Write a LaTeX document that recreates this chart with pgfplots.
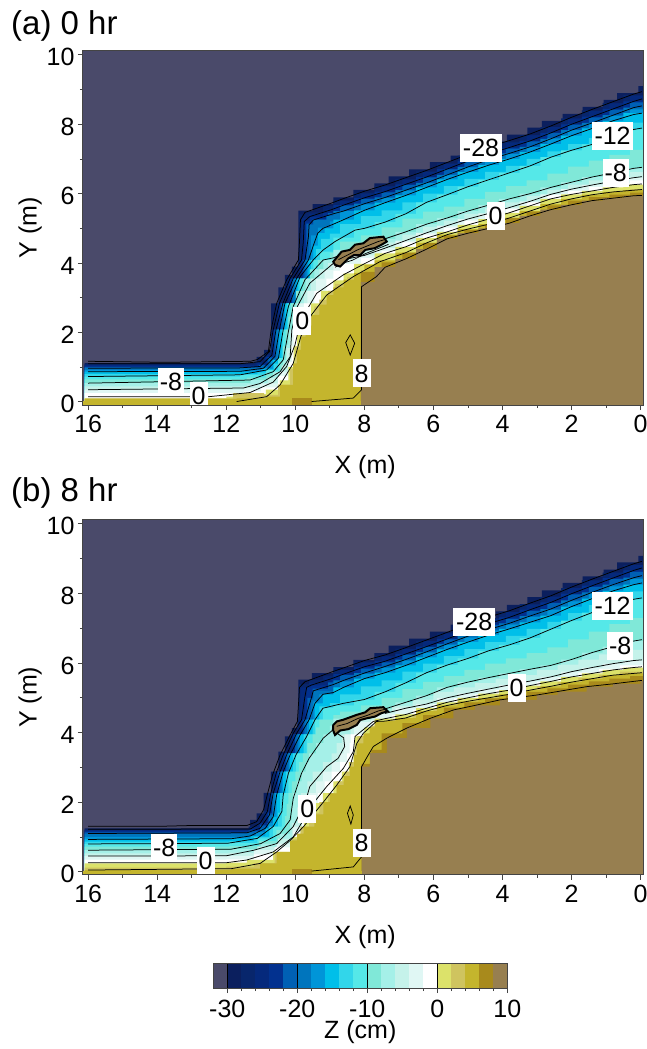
\documentclass[border=0pt]{standalone}
\usepackage{fontspec}
\setmainfont{Liberation Sans}
\usepackage{pgfplots}
\pgfplotsset{compat=1.18}
\newcommand\fs{\fontsize{25}{30}\selectfont}
\definecolor{fr}{HTML}{444444}
\definecolor{bg}{HTML}{4A4A6A}
\definecolor{a1}{HTML}{0B1F5E}
\definecolor{a2}{HTML}{08266C}
\definecolor{a3}{HTML}{05297C}
\definecolor{a4}{HTML}{02318F}
\definecolor{a5}{HTML}{0060B4}
\definecolor{a6}{HTML}{0075BD}
\definecolor{a7}{HTML}{0095D8}
\definecolor{a8}{HTML}{00BFE9}
\definecolor{a9}{HTML}{32D6EA}
\definecolor{a10}{HTML}{55E8E8}
\definecolor{a11}{HTML}{80E8D8}
\definecolor{a12}{HTML}{A5F0E8}
\definecolor{a13}{HTML}{C5F2EA}
\definecolor{a14}{HTML}{E0F7F4}
\definecolor{a15}{HTML}{FFFFFF}
\definecolor{a16}{HTML}{DCE26A}
\definecolor{a17}{HTML}{CFC45F}
\definecolor{a18}{HTML}{C4B52D}
\definecolor{a19}{HTML}{A88A1C}
\definecolor{a20}{HTML}{977F50}
\tikzset{lab/.style={fill=white, inner sep=0pt, minimum height=28pt, font=\fs}}
\pgfplotsset{
  panel/.style={
    scale only axis, width=561pt, x dir=reverse,
    xmin=-0.1, xmax=16.15, ymin=-0.09, ymax=10.12,
    xtick={0,2,...,16}, ytick={0,2,...,10}, minor x tick num=1, minor y tick num=1,
    xtick pos=bottom, ytick pos=left, yticklabel pos=left,
    tick align=outside, major tick length=5pt, minor tick length=3pt,
    axis line style={draw=fr, line width=1pt}, tick style={draw=fr, line width=0.8pt},
    /pgf/number format/assume math mode=true,
    tick label style={font=\fs},
    xticklabel style={yshift=-2pt}, yticklabel style={yshift=-2.5pt},
    label style={font=\fs},
    xlabel={X (m)}, ylabel={Y (m)},
    xlabel style={at={(axis description cs:0.503,-0.175)}, anchor=center},
    ylabel style={at={(axis description cs:-0.094,0.5)}, anchor=center},
    axis background/.style={fill=bg}, axis on top, clip=true,
  },
  band/.style={const plot, draw=none, fill=#1, mark=none},
  cl/.style={black, line width=0.75pt, mark=none},
}
\begin{document}
\begin{tikzpicture}
\path[use as bounding box] (0pt,0pt) rectangle (647pt,-1049pt);
\node[anchor=west, font=\fontsize{33}{38}\selectfont, inner sep=0pt] at (11pt,-26pt) {(a) 0 hr};
\node[anchor=west, font=\fontsize{33}{38}\selectfont, inner sep=0pt] at (11pt,-493pt) {(b) 8 hr};
% ---------------- panel a
\begin{axis}[panel, height=354.3pt, at={(83pt,-50.7pt)}, anchor=north west]
\addplot[band=a1] coordinates {(16.1,1.12)(11.12,1.3)(10.9,1.5)(10.7,2.84)(10.49,3.3)(10.3,3.66)(10.1,3.9)(9.91,5.51)(9.5,5.7)(8.9,5.89)(8.32,6.11)(7.71,6.3)(7.3,6.5)(6.7,6.7)(6.1,6.91)(5.5,7.1)(4.9,7.3)(4.3,7.5)(3.87,7.7)(3.28,7.9)(2.86,8.1)(2.26,8.3)(1.68,8.5)(1.07,8.7)(0.68,8.9)(0.06,9.1)(-0.1,9.1)} \closedcycle;
\addplot[band=a2] coordinates {(16.1,1.09)(11.2,1.16)(10.9,1.42)(10.7,2.08)(10.54,2.84)(10.22,3.55)(9.91,4.09)(9.88,5.4)(9.7,5.46)(9.2,5.65)(8.9,5.8)(8.3,6.03)(7.7,6.22)(7.1,6.43)(6.5,6.64)(5.9,6.87)(5.3,7.1)(4.7,7.32)(4.1,7.5)(3.5,7.69)(2.9,7.92)(2.3,8.17)(1.7,8.4)(1.1,8.62)(0.5,8.84)(-0.1,8.84)} \closedcycle;
\addplot[band=a3] coordinates {(16.1,1.07)(11.15,1.13)(10.88,1.35)(10.67,2.08)(10.5,2.84)(10.18,3.55)(9.86,4.09)(9.8,5.3)(9.6,5.42)(9.1,5.56)(8.7,5.8)(8.1,6)(7.5,6.2)(6.9,6.4)(6.3,6.62)(5.7,6.85)(5.1,7.08)(4.5,7.29)(3.9,7.47)(3.3,7.68)(2.7,7.92)(2.1,8.16)(1.5,8.38)(0.9,8.6)(0.3,8.82)(-0.1,8.82)} \closedcycle;
\addplot[band=a4] coordinates {(16.1,1.04)(11.1,1.1)(10.85,1.3)(10.64,2.08)(10.46,2.84)(10.15,3.55)(9.82,4.09)(9.74,5.2)(9.58,5.34)(9.2,5.45)(8.9,5.67)(8.3,5.88)(7.7,6.06)(7.1,6.27)(6.5,6.48)(5.9,6.71)(5.3,6.94)(4.7,7.15)(4.1,7.33)(3.5,7.52)(2.9,7.75)(2.3,8)(1.7,8.22)(1.1,8.44)(0.5,8.66)(-0.1,8.66)} \closedcycle;
\addplot[band=a5] coordinates {(16.1,1)(11.05,1.06)(10.8,1.28)(10.6,2.08)(10.41,2.84)(10.1,3.55)(9.77,4.09)(9.68,5.14)(9.5,5.26)(9.05,5.44)(8.7,5.66)(8.1,5.85)(7.5,6.04)(6.9,6.25)(6.3,6.47)(5.7,6.7)(5.1,6.92)(4.5,7.12)(3.9,7.3)(3.3,7.51)(2.7,7.75)(2.1,7.99)(1.5,8.2)(0.9,8.42)(0.3,8.63)(-0.1,8.63)} \closedcycle;
\addplot[band=a6] coordinates {(16.1,0.97)(11,1.02)(10.75,1.25)(10.56,2.08)(10.36,2.84)(10.06,3.55)(9.72,4.09)(9.6,5.1)(9.48,5.24)(9.1,5.36)(8.9,5.5)(8.3,5.71)(7.7,5.89)(7.1,6.1)(6.5,6.31)(5.9,6.54)(5.3,6.77)(4.7,6.98)(4.1,7.16)(3.5,7.35)(2.9,7.58)(2.3,7.83)(1.7,8.04)(1.1,8.26)(0.5,8.48)(-0.1,8.48)} \closedcycle;
\addplot[band=a7] coordinates {(16.1,0.92)(11,0.97)(10.7,1.2)(10.51,2.08)(10.33,2.84)(10.01,3.55)(9.67,4.09)(9.54,4.8)(9.35,5.02)(9,5.2)(8.7,5.5)(8.1,5.69)(7.5,5.88)(6.9,6.09)(6.3,6.31)(5.7,6.54)(5.1,6.76)(4.5,6.96)(3.9,7.14)(3.3,7.35)(2.7,7.59)(2.1,7.83)(1.5,8.03)(0.9,8.24)(0.3,8.43)(-0.1,8.43)} \closedcycle;
\addplot[band=a8] coordinates {(16.1,0.87)(10.95,0.95)(10.65,1.2)(10.46,2.08)(10.3,2.84)(9.96,3.55)(9.62,4.09)(9.48,4.5)(9.35,4.86)(9.15,5)(8.9,5.25)(8.3,5.52)(7.7,5.74)(7.1,5.95)(6.5,6.18)(5.9,6.41)(5.3,6.62)(4.7,6.82)(4.1,7)(3.5,7.2)(2.9,7.43)(2.3,7.67)(1.7,7.88)(1.1,8.1)(0.5,8.32)(-0.1,8.32)} \closedcycle;
\addplot[band=a9] coordinates {(16.1,0.8)(11.1,0.85)(10.62,1.1)(10.4,2.08)(10.25,2.84)(9.91,3.55)(9.55,4.09)(9.4,4.4)(9.25,4.7)(9,4.85)(8.7,5.12)(8.1,5.35)(7.5,5.52)(6.9,5.75)(6.3,6)(5.7,6.22)(5.1,6.43)(4.5,6.63)(3.9,6.8)(3.3,7)(2.7,7.22)(2.1,7.43)(1.5,7.6)(0.9,7.82)(0.3,8.05)(-0.1,8.05)} \closedcycle;
\addplot[band=a10] coordinates {(16.1,0.73)(11.6,0.78)(10.85,0.92)(10.5,1.26)(10.35,2.08)(10.2,2.84)(9.86,3.55)(9.48,4.09)(9.28,4.33)(8.9,4.73)(8.3,5)(7.7,5.18)(7.1,5.42)(6.5,5.75)(5.9,5.97)(5.3,6.2)(4.7,6.4)(4.1,6.6)(3.5,6.8)(2.9,7.05)(2.3,7.25)(1.7,7.42)(1.1,7.62)(0.5,7.85)(-0.1,7.85)} \closedcycle;
\addplot[band=a11] coordinates {(16.1,0.65)(11.4,0.7)(10.85,0.82)(10.45,1.15)(10.35,1.6)(10.28,2.08)(10.2,2.46)(10.13,2.84)(9.98,3.2)(9.79,3.55)(9.58,3.82)(9.35,4.09)(9,4.3)(8.7,4.62)(8.1,4.8)(7.5,5.03)(6.9,5.28)(6.3,5.48)(5.7,5.63)(5.1,5.85)(4.5,6.05)(3.9,6.22)(3.3,6.38)(2.7,6.58)(2.1,6.78)(1.5,6.95)(0.9,7.12)(0.3,7.26)(-0.1,7.26)} \closedcycle;
\addplot[band=a12] coordinates {(16.1,0.54)(11.3,0.63)(10.64,0.87)(10.35,1.21)(10.27,1.65)(10.2,2.08)(10.1,2.46)(10,2.84)(9.85,3.2)(9.7,3.55)(9.45,3.82)(9.19,4.09)(8.9,4.38)(8.3,4.5)(7.7,4.7)(7.1,4.9)(6.5,5.12)(5.9,5.3)(5.3,5.5)(4.7,5.67)(4.1,5.85)(3.5,6)(2.9,6.18)(2.3,6.33)(1.7,6.48)(1.1,6.6)(0.5,6.73)(-0.1,6.73)} \closedcycle;
\addplot[band=a13] coordinates {(16.1,0.45)(11.4,0.5)(10.8,0.7)(10.4,1.05)(10.25,1.55)(10.15,2.08)(10.05,2.46)(9.95,2.84)(9.75,3.2)(9.55,3.55)(9.3,3.82)(9.05,4)(8.7,4.28)(8.1,4.42)(7.5,4.6)(6.9,4.82)(6.3,5.04)(5.7,5.22)(5.1,5.42)(4.5,5.58)(3.9,5.75)(3.3,5.93)(2.7,6.1)(2.1,6.26)(1.5,6.38)(0.9,6.5)(0.3,6.62)(-0.1,6.62)} \closedcycle;
\addplot[band=a14] coordinates {(16.1,0.35)(11.5,0.4)(11.02,0.53)(10.44,0.87)(10.15,1.3)(10.12,1.7)(10.1,2.08)(10,2.46)(9.9,2.84)(9.65,3.2)(9.4,3.55)(9.15,3.8)(8.9,4.1)(8.3,4.22)(7.7,4.43)(7.1,4.65)(6.5,4.87)(5.9,5.08)(5.3,5.27)(4.7,5.43)(4.1,5.6)(3.5,5.78)(2.9,5.98)(2.3,6.13)(1.7,6.25)(1.1,6.36)(0.5,6.46)(-0.1,6.46)} \closedcycle;
\addplot[band=a15] coordinates {(16.1,0.25)(11.5,0.3)(11,0.42)(10.5,0.75)(10.2,1.15)(10.1,1.6)(10.05,2.08)(9.9,2.46)(9.75,2.84)(9.45,3.2)(9.1,3.55)(8.9,3.78)(8.7,3.98)(8.1,4.15)(7.5,4.35)(6.9,4.6)(6.3,4.82)(5.7,5.02)(5.1,5.22)(4.5,5.38)(3.9,5.56)(3.3,5.75)(2.7,5.97)(2.1,6.08)(1.5,6.19)(0.9,6.3)(0.3,6.38)(-0.1,6.38)} \closedcycle;
\addplot[band=a16] coordinates {(16.1,0.1)(12,0.15)(11.3,0.22)(10.85,0.35)(10.45,0.62)(10.2,1)(10.05,1.6)(9.95,2)(9.8,2.4)(9.55,2.84)(9.25,3.2)(8.9,3.5)(8.6,3.7)(8.3,3.98)(7.7,4.28)(7.1,4.47)(6.5,4.72)(5.9,4.9)(5.3,5.1)(4.7,5.27)(4.1,5.45)(3.5,5.65)(2.9,5.85)(2.3,5.98)(1.7,6.08)(1.1,6.18)(0.5,6.26)(-0.1,6.26)} \closedcycle;
\addplot[band=a17] coordinates {(16.1,0.1)(11.8,0.25)(10.9,0.2)(10.5,0.5)(10.15,0.95)(10,1.6)(9.85,2.1)(9.65,2.5)(9.45,2.75)(9.3,2.95)(9.05,3.2)(8.85,3.4)(8.5,3.6)(8.1,3.8)(7.5,4)(6.9,4.22)(6.3,4.45)(5.7,4.68)(5.1,4.88)(4.5,5.04)(3.9,5.22)(3.3,5.42)(2.7,5.62)(2.1,5.82)(1.5,5.95)(0.9,6.05)(0.3,6.13)(-0.1,6.2)} \closedcycle;
\addplot[band=a18] coordinates {(16.1,0.09)(11.7,0.1)(10.83,0.15)(10.44,0.49)(10.06,1.11)(9.95,1.5)(9.84,1.88)(9.7,2.2)(9.53,2.51)(9.3,2.8)(9.09,3.08)(8.9,3.3)(8.6,3.52)(8.3,3.72)(8,3.95)(7.7,4.08)(7.1,4.3)(6.5,4.58)(5.9,4.82)(5.3,4.98)(4.7,5.12)(4.1,5.3)(3.5,5.5)(2.9,5.7)(2.3,5.85)(1.7,5.97)(1.1,6.05)(0.5,6.1)(-0.1,6.1)} \closedcycle;
\addplot[band=a19] coordinates {(16.1,0)(8.1,3.75)(7.5,4.02)(6.9,4.3)(6.3,4.58)(5.7,4.8)(5.1,4.95)(4.5,5.1)(3.9,5.3)(3.3,5.48)(2.7,5.66)(2.1,5.8)(1.5,5.9)(0.9,5.97)(0.3,6.03)(-0.1,6.03)} \closedcycle;
\addplot[band=a20] coordinates {(16.1,0)(8.1,3.45)(7.7,3.88)(7.1,4.12)(6.5,4.4)(5.9,4.7)(5.3,4.86)(4.7,5)(4.1,5.15)(3.5,5.36)(2.9,5.54)(2.3,5.68)(1.7,5.8)(1.1,5.87)(0.5,5.94)(-0.1,5.94)} \closedcycle;
\addplot[fill=a18, draw=none] coordinates {(16.15,-0.2)(8.1,-0.2)(8.1,0.02)(16.15,0.02)} --cycle;
\addplot[fill=a20, draw=none] coordinates {(8.1,-0.2)(-0.1,-0.2)(-0.1,0.02)(8.1,0.02)} --cycle;
\addplot[fill=a19, draw=none] coordinates {(10.1,-0.2)(10.1,0.1)(9.53,0.1)(9.53,-0.2)} --cycle;
% contours a
\addplot[cl] coordinates {(16,1.17)(13.8,1.14)(11.3,1.17)(11.1,1.22)(10.78,1.45)(10.7,2.08)(10.54,2.84)(10.25,3.52)(9.91,4.09)(9.88,4.6)(9.85,5.25)(9.72,5.46)(8.95,5.73)(8.6,5.86)(8,6.07)(7.4,6.25)(6.8,6.46)(6.2,6.67)(5.6,6.9)(5,7.13)(4.4,7.35)(3.8,7.53)(3.2,7.72)(2.6,7.95)(2,8.2)(1.4,8.43)(0.8,8.65)(0.2,8.87)(-0.04,8.94)};
\addplot[cl] coordinates {(16,1.1)(11.6,1.1)(11.02,1.16)(10.75,1.45)(10.64,2.08)(10.46,2.84)(10.15,3.56)(9.82,4.09)(9.77,4.6)(9.74,5.2)(9.58,5.34)(8.95,5.54)(8.6,5.67)(8,5.88)(7.4,6.06)(6.8,6.27)(6.2,6.48)(5.6,6.71)(5,6.94)(4.4,7.15)(3.8,7.33)(3.2,7.52)(2.6,7.75)(2,8)(1.4,8.22)(0.8,8.44)(0.2,8.66)(-0.04,8.73)};
\addplot[cl] coordinates {(16,0.97)(11.6,0.98)(11.02,1.02)(10.68,1.35)(10.56,2.08)(10.36,2.84)(10.06,3.56)(9.72,4.09)(9.62,4.76)(9.6,5.1)(9.48,5.24)(8.9,5.42)(8.6,5.5)(8,5.71)(7.4,5.89)(6.8,6.1)(6.2,6.31)(5.6,6.54)(5,6.77)(4.4,6.98)(3.8,7.16)(3.2,7.35)(2.6,7.58)(2,7.83)(1.4,8.04)(0.8,8.26)(0.2,8.48)(-0.04,8.53)};
\addplot[cl] coordinates {(16,0.87)(11.6,0.88)(10.92,0.97)(10.59,1.31)(10.46,2.08)(10.3,2.84)(9.96,3.56)(9.62,4.09)(9.48,4.5)(9.35,4.86)(9.2,5)(8.9,5.12)(8.6,5.25)(8,5.52)(7.4,5.74)(6.8,5.95)(6.2,6.18)(5.6,6.41)(5,6.62)(4.4,6.82)(3.8,7)(3.2,7.2)(2.6,7.43)(2,7.67)(1.4,7.88)(0.8,8.1)(0.2,8.28)(-0.04,8.32)};
\addplot[cl] coordinates {(16,0.73)(11.6,0.78)(10.83,0.92)(10.49,1.26)(10.35,2.08)(10.2,2.75)(9.86,3.61)(9.48,4.09)(9.19,4.38)(8.85,4.62)(8.27,4.95)(8,5)(7.4,5.18)(6.8,5.42)(6.2,5.75)(5.6,5.97)(5,6.2)(4.4,6.4)(3.8,6.6)(3.2,6.8)(2.6,7.05)(2,7.25)(1.4,7.42)(0.8,7.62)(0.2,7.85)(-0.04,7.89)};
\addplot[cl] coordinates {(16,0.54)(11.31,0.63)(10.64,0.87)(10.35,1.21)(10.2,2.03)(10.06,2.75)(9.72,3.52)(9.19,4.09)(8.9,4.15)(8.4,4.35)(8,4.5)(7.4,4.7)(6.8,4.9)(6.2,5.12)(5.6,5.3)(5,5.5)(4.4,5.67)(3.8,5.85)(3.2,6)(2.6,6.18)(2,6.33)(1.4,6.48)(0.8,6.6)(0.2,6.73)(-0.04,6.76)};
\addplot[cl] coordinates {(16,0.35)(11.5,0.4)(11.02,0.53)(10.44,0.87)(10.15,1.3)(10.1,2.08)(9.94,2.75)(9.58,3.42)(8.9,3.99)(8.6,4.1)(8,4.22)(7.4,4.43)(6.8,4.65)(6.2,4.87)(5.6,5.08)(5,5.27)(4.4,5.43)(3.8,5.6)(3.2,5.78)(2.6,5.98)(2,6.13)(1.4,6.25)(0.8,6.36)(0.2,6.46)(-0.04,6.49)};
\addplot[cl] coordinates {(16,0.15)(12.5,0.15)(11.31,0.27)(10.64,0.57)(10.25,1.02)(10.01,1.64)(9.84,2.36)(9.38,3.13)(8.61,3.66)(8,3.98)(7.4,4.28)(6.8,4.47)(6.2,4.72)(5.6,4.9)(5,5.1)(4.4,5.27)(3.8,5.45)(3.2,5.65)(2.6,5.85)(2,5.98)(1.4,6.08)(0.8,6.18)(0.2,6.26)(-0.04,6.28)};
\addplot[cl] coordinates {(11.7,0.01)(10.83,0.15)(10.44,0.49)(10.06,1.11)(9.84,1.88)(9.53,2.51)(9.09,3.08)(8.32,3.61)(7.55,4.04)(6.8,4.3)(6.2,4.58)(5.6,4.82)(5,4.98)(4.4,5.12)(3.8,5.3)(3.2,5.5)(2.6,5.7)(2,5.85)(1.4,5.97)(0.8,6.05)(0.2,6.1)(-0.04,6.12)};
\addplot[cl] coordinates {(9.53,0.01)(8.32,0.11)(8.08,0.35)(8.08,3.32)(7.65,3.61)(7.4,3.88)(6.8,4.12)(6.2,4.4)(5.6,4.7)(5,4.86)(4.4,5)(3.8,5.15)(3.2,5.36)(2.6,5.54)(2,5.68)(1.4,5.8)(0.8,5.87)(0.2,5.94)(-0.04,5.95)};
\addplot[cl] coordinates {(8.41,1.93)(8.54,1.71)(8.41,1.35)(8.28,1.69)} --cycle;
\addplot[cl] coordinates {(8.85,3.88)(8.55,4.02)(8.35,4.08)(8.15,4.18)(7.95,4.28)(7.55,4.44)(7.3,4.54)};
\addplot[fill=a20, draw=black, line width=2pt] coordinates {(8.9,4.04)(8.66,4.33)(8.42,4.38)(8.27,4.53)(8.03,4.57)(7.84,4.72)(7.45,4.76)(7.35,4.62)(7.5,4.53)(7.7,4.43)(7.97,4.38)(8.12,4.23)(8.3,4.23)(8.47,4.13)(8.7,3.9)(8.85,3.95)} --cycle;
\addplot[cl] coordinates {(8.75,4.1)(8.45,4.25)(8.2,4.38)(7.9,4.5)(7.6,4.62)(7.4,4.68)};
\node[lab, minimum width=42pt] at (axis cs:4.62,7.31) {-28};
\node[lab, minimum width=41pt] at (axis cs:0.81,7.66) {-12};
\node[lab, minimum width=26pt] at (axis cs:0.72,6.6) {-8};
\node[lab, minimum width=18pt] at (axis cs:4.2,5.36) {0};
\node[lab, minimum width=26pt] at (axis cs:13.6,0.58) {-8};
\node[lab, minimum width=18pt] at (axis cs:12.8,0.17) {0};
\node[lab, minimum width=18pt] at (axis cs:9.8,2.33) {0};
\node[lab, minimum width=18pt] at (axis cs:8.08,0.82) {8};
\end{axis}
% ---------------- panel b
\begin{axis}[panel, height=355.3pt, at={(83pt,-519.6pt)}, anchor=north west]
\addplot[band=a1] coordinates {(16.1,1.25)(11.31,1.49)(11.12,1.68)(10.92,2.27)(10.71,2.88)(10.49,3.45)(10.3,3.89)(10.1,4.13)(9.91,5.52)(9.52,5.71)(8.9,5.88)(8.32,6.09)(7.71,6.28)(7.3,6.5)(6.7,6.7)(6.1,6.9)(5.5,7.1)(4.9,7.29)(4.19,7.48)(3.87,7.67)(3.28,7.89)(2.86,8.09)(2.26,8.3)(1.68,8.49)(1.07,8.68)(0.68,8.89)(0.06,9.08)(-0.1,9.08)} \closedcycle;
\addplot[band=a2] coordinates {(16.1,1.22)(11.35,1.3)(11.12,1.42)(10.92,1.75)(10.8,2.26)(10.64,2.88)(10.44,3.4)(10.15,3.95)(9.94,4.37)(9.9,5.4)(9.6,5.52)(9.2,5.64)(8.9,5.8)(8.3,6.03)(7.7,6.2)(7.1,6.41)(6.5,6.63)(5.9,6.85)(5.3,7.08)(4.7,7.29)(4.1,7.47)(3.5,7.69)(2.9,7.9)(2.3,8.15)(1.7,8.38)(1.1,8.6)(0.5,8.82)(-0.1,8.82)} \closedcycle;
\addplot[band=a3] coordinates {(16.1,1.2)(11.3,1.28)(11.07,1.4)(10.87,1.72)(10.76,2.26)(10.59,2.88)(10.38,3.4)(10.1,3.95)(9.88,4.37)(9.85,5.3)(9.6,5.42)(9.15,5.58)(8.7,5.8)(8.1,6)(7.5,6.18)(6.9,6.4)(6.3,6.63)(5.7,6.85)(5.1,7.08)(4.5,7.27)(3.9,7.46)(3.3,7.68)(2.7,7.91)(2.1,8.15)(1.5,8.37)(0.9,8.6)(0.3,8.81)(-0.1,8.81)} \closedcycle;
\addplot[band=a4] coordinates {(16.1,1.17)(11.3,1.23)(11.02,1.4)(10.81,1.73)(10.71,2.26)(10.54,2.88)(10.33,3.4)(10.06,3.95)(9.82,4.37)(9.72,5.04)(9.67,5.3)(9.55,5.36)(8.95,5.55)(8.9,5.68)(8.3,5.89)(7.7,6.05)(7.1,6.26)(6.5,6.47)(5.9,6.69)(5.3,6.92)(4.7,7.13)(4.1,7.31)(3.5,7.53)(2.9,7.74)(2.3,7.99)(1.7,8.22)(1.1,8.44)(0.5,8.66)(-0.1,8.66)} \closedcycle;
\addplot[band=a5] coordinates {(16.1,1.13)(11.35,1.18)(11.02,1.33)(10.78,1.68)(10.68,2.26)(10.49,2.88)(10.28,3.4)(10.01,3.95)(9.77,4.37)(9.65,5)(9.5,5.26)(9.05,5.44)(8.7,5.65)(8.1,5.84)(7.5,6.02)(6.9,6.24)(6.3,6.46)(5.7,6.68)(5.1,6.9)(4.5,7.09)(3.9,7.27)(3.3,7.5)(2.7,7.72)(2.1,7.97)(1.5,8.19)(0.9,8.41)(0.3,8.62)(-0.1,8.62)} \closedcycle;
\addplot[band=a6] coordinates {(16.1,1.08)(11.4,1.12)(11.02,1.25)(10.75,1.63)(10.64,2.26)(10.44,2.88)(10.23,3.4)(9.96,3.95)(9.72,4.37)(9.55,4.94)(9.48,5.2)(8.9,5.5)(8.3,5.71)(7.7,5.9)(7.1,6.1)(6.5,6.32)(5.9,6.55)(5.3,6.77)(4.7,6.96)(4.1,7.14)(3.5,7.35)(2.9,7.55)(2.3,7.8)(1.7,8.03)(1.1,8.25)(0.5,8.45)(-0.1,8.45)} \closedcycle;
\addplot[band=a7] coordinates {(16.1,1)(11.5,1.03)(11.15,1.15)(10.8,1.4)(10.66,1.65)(10.59,2.26)(10.4,2.88)(10.19,3.4)(9.91,3.95)(9.66,4.37)(9.48,4.9)(9.3,5.1)(8.7,5.47)(8.1,5.68)(7.5,5.87)(6.9,6.07)(6.3,6.3)(5.7,6.52)(5.1,6.73)(4.5,6.92)(3.9,7.1)(3.3,7.32)(2.7,7.52)(2.1,7.77)(1.5,8)(0.9,8.2)(0.3,8.41)(-0.1,8.41)} \closedcycle;
\addplot[band=a8] coordinates {(16.1,0.93)(11.85,0.95)(11.3,1.03)(10.87,1.25)(10.64,1.58)(10.54,2.26)(10.35,2.88)(10.15,3.4)(9.86,3.95)(9.6,4.37)(9.43,4.84)(9.2,5.1)(8.9,5.3)(8.3,5.55)(7.7,5.72)(7.1,5.93)(6.5,6.16)(5.9,6.39)(5.3,6.6)(4.7,6.8)(4.1,6.98)(3.5,7.17)(2.9,7.36)(2.3,7.62)(1.7,7.85)(1.1,8.07)(0.5,8.25)(-0.1,8.25)} \closedcycle;
\addplot[band=a9] coordinates {(16.1,0.87)(11.9,0.88)(11.2,1)(10.75,1.3)(10.5,1.7)(10.44,2.26)(10.27,2.88)(10.07,3.4)(9.76,3.95)(9.5,4.37)(9.3,4.75)(9,4.85)(8.7,5.1)(8.1,5.33)(7.5,5.5)(6.9,5.75)(6.3,5.98)(5.7,6.2)(5.1,6.4)(4.5,6.6)(3.9,6.78)(3.3,6.98)(2.7,7.18)(2.1,7.43)(1.5,7.66)(0.9,7.88)(0.3,8.06)(-0.1,8.06)} \closedcycle;
\addplot[band=a10] coordinates {(16.1,0.8)(11.95,0.82)(11.1,0.96)(10.64,1.3)(10.39,1.73)(10.35,2.26)(10.2,2.88)(9.98,3.4)(9.67,3.95)(9.43,4.37)(9.2,4.7)(8.9,4.78)(8.3,4.95)(7.7,5.17)(7.1,5.43)(6.5,5.72)(5.9,5.94)(5.3,6.13)(4.7,6.35)(4.1,6.52)(3.5,6.72)(2.9,6.97)(2.3,7.22)(1.7,7.45)(1.1,7.65)(0.5,7.83)(-0.1,7.83)} \closedcycle;
\addplot[band=a11] coordinates {(16.1,0.72)(11.9,0.74)(11.05,0.88)(10.55,1.2)(10.3,1.6)(10.25,1.95)(10.2,2.26)(10.1,2.6)(10,2.88)(9.9,3.15)(9.78,3.4)(9.65,3.7)(9.5,3.95)(9.4,4.15)(9.3,4.37)(8.9,4.5)(8.7,4.6)(8.1,4.78)(7.5,5)(6.9,5.25)(6.3,5.46)(5.7,5.62)(5.1,5.8)(4.5,5.98)(3.9,6.13)(3.3,6.28)(2.7,6.45)(2.1,6.68)(1.5,6.9)(0.9,7.12)(0.3,7.29)(-0.1,7.29)} \closedcycle;
\addplot[band=a12] coordinates {(16.1,0.62)(11.85,0.65)(11,0.81)(10.44,1.1)(10.15,1.49)(10.1,1.9)(10.06,2.26)(9.95,2.6)(9.82,2.88)(9.7,3.15)(9.6,3.4)(9.4,3.7)(9.19,3.95)(9,4.2)(8.9,4.4)(8.3,4.48)(7.7,4.68)(7.1,4.87)(6.5,5.06)(5.9,5.3)(5.3,5.45)(4.7,5.58)(4.1,5.7)(3.5,5.82)(2.9,5.93)(2.3,6.1)(1.7,6.3)(1.1,6.47)(0.5,6.63)(-0.1,6.63)} \closedcycle;
\addplot[band=a13] coordinates {(16.1,0.53)(11.9,0.55)(11.1,0.72)(10.5,0.95)(10.1,1.4)(9.95,1.85)(9.83,2.26)(9.65,2.6)(9.5,2.88)(9.2,3.15)(8.95,3.4)(8.8,3.7)(8.65,3.95)(8.4,4.38)(7.8,4.58)(7.2,4.77)(6.6,4.95)(6,5.17)(5.4,5.3)(4.8,5.42)(4.2,5.54)(3.6,5.65)(3,5.8)(2.4,5.95)(1.8,6.1)(1.2,6.25)(0.6,6.38)(-0.1,6.38)} \closedcycle;
\addplot[band=a14] coordinates {(16.1,0.45)(12,0.46)(11.2,0.62)(10.54,0.81)(10.06,1.3)(9.72,1.97)(9.6,2.26)(9.4,2.6)(9.2,2.88)(8.95,3.15)(8.72,3.4)(8.6,3.7)(8.57,3.95)(8.3,4.3)(7.7,4.55)(7.1,4.7)(6.5,4.82)(5.9,5)(5.3,5.13)(4.7,5.25)(4.1,5.37)(3.5,5.48)(2.9,5.6)(2.3,5.75)(1.7,5.87)(1.1,5.98)(0.5,6.07)(-0.1,6.07)} \closedcycle;
\addplot[band=a15] coordinates {(16.1,0.35)(12,0.36)(11.2,0.5)(10.6,0.7)(10.05,1.15)(9.8,1.5)(9.6,1.9)(9.35,2.26)(9.15,2.6)(8.95,2.88)(8.7,3.15)(8.5,3.4)(8.43,3.7)(8.4,3.95)(7.8,4.35)(7.2,4.5)(6.6,4.65)(6,4.82)(5.4,4.98)(4.8,5.1)(4.2,5.22)(3.6,5.33)(3,5.45)(2.4,5.58)(1.8,5.72)(1.2,5.83)(0.6,5.93)(-0.1,6)} \closedcycle;
\addplot[band=a16] coordinates {(16.1,0.24)(12,0.26)(11.4,0.34)(10.64,0.57)(10.06,1)(9.75,1.5)(9.48,1.97)(9.2,2.26)(8.9,2.6)(8.65,2.88)(8.45,3.15)(8.32,3.4)(8.28,3.65)(8.27,3.89)(8,4.15)(7.7,4.4)(7.1,4.52)(6.5,4.7)(5.9,4.87)(5.3,5)(4.7,5.12)(4.1,5.22)(3.5,5.35)(2.9,5.47)(2.3,5.6)(1.7,5.7)(1.1,5.8)(0.5,5.87)(-0.1,5.87)} \closedcycle;
\addplot[band=a17] coordinates {(16.1,0.12)(12,0.15)(11.2,0.25)(10.6,0.55)(10.1,0.95)(9.85,1.3)(9.6,1.7)(9.3,2)(9.05,2.26)(8.8,2.6)(8.55,2.88)(8.42,3.15)(8.3,3.4)(8.25,3.65)(8.2,3.9)(7.8,4.2)(7.2,4.38)(6.6,4.52)(6,4.7)(5.4,4.85)(4.8,4.97)(4.2,5.08)(3.6,5.2)(3,5.33)(2.4,5.45)(1.8,5.57)(1.2,5.65)(0.6,5.75)(-0.1,5.82)} \closedcycle;
\addplot[band=a18] coordinates {(16.1,0.05)(11.85,0.09)(11.02,0.24)(10.54,0.57)(10.15,0.9)(9.95,1.1)(9.76,1.3)(9.45,1.65)(9.19,2)(9,2.25)(8.8,2.49)(8.6,2.75)(8.42,3.02)(8.3,3.35)(8.22,3.69)(8.03,3.98)(7.85,4.15)(7.7,4.33)(7.1,4.42)(6.5,4.62)(5.9,4.78)(5.3,4.9)(4.7,5)(4.1,5.1)(3.5,5.22)(2.9,5.33)(2.3,5.45)(1.7,5.55)(1.1,5.65)(0.5,5.7)(-0.1,5.7)} \closedcycle;
\addplot[band=a19] coordinates {(16.1,0)(8.08,3.1)(7.8,3.5)(7.5,3.98)(6.9,4.27)(6.3,4.5)(5.7,4.72)(5.1,4.87)(4.5,4.98)(3.9,5.08)(3.3,5.17)(2.7,5.27)(2.1,5.38)(1.5,5.47)(0.9,5.55)(0.3,5.62)(-0.1,5.62)} \closedcycle;
\addplot[band=a20] coordinates {(16.1,0)(8.08,3.02)(7.84,3.41)(7.35,3.84)(6.77,4.13)(6.09,4.41)(5.42,4.65)(4.8,4.78)(4.07,4.94)(3,5.08)(2.4,5.18)(1.56,5.32)(0.8,5.4)(0,5.48)(-0.1,5.48)} \closedcycle;
\addplot[fill=a18, draw=none] coordinates {(16.15,-0.2)(8.08,-0.2)(8.08,0.02)(16.15,0.02)} --cycle;
\addplot[fill=a20, draw=none] coordinates {(8.08,-0.2)(-0.1,-0.2)(-0.1,0.02)(8.08,0.02)} --cycle;
\addplot[fill=a19, draw=none] coordinates {(10.1,-0.2)(10.1,0.09)(9.53,0.09)(9.53,-0.2)} --cycle;
% contours b
\addplot[cl] coordinates {(16,1.31)(13.8,1.31)(13,1.33)(11.4,1.33)(11.12,1.44)(10.92,1.78)(10.8,2.26)(10.66,2.78)(10.44,3.36)(10.15,3.93)(9.94,4.32)(9.9,4.94)(9.88,5.3)(9.72,5.46)(8.95,5.74)(8.6,5.86)(8,6.07)(7.4,6.23)(6.8,6.44)(6.2,6.66)(5.6,6.88)(5,7.11)(4.4,7.32)(3.8,7.5)(3.2,7.72)(2.6,7.93)(2,8.18)(1.4,8.41)(0.8,8.63)(0.2,8.85)(-0.04,8.92)};
\addplot[cl] coordinates {(16,1.22)(11.3,1.23)(11.02,1.4)(10.81,1.73)(10.71,2.26)(10.54,2.88)(10.33,3.41)(10.06,3.98)(9.82,4.37)(9.72,5.04)(9.67,5.3)(9.55,5.36)(8.95,5.55)(8.6,5.68)(8,5.89)(7.4,6.05)(6.8,6.26)(6.2,6.47)(5.6,6.69)(5,6.92)(4.4,7.13)(3.8,7.31)(3.2,7.53)(2.6,7.74)(2,7.99)(1.4,8.22)(0.8,8.44)(0.2,8.66)(-0.04,8.73)};
\addplot[cl] coordinates {(16,1.1)(11.4,1.12)(11.02,1.25)(10.75,1.63)(10.64,2.26)(10.44,2.88)(10.23,3.41)(9.96,3.98)(9.72,4.37)(9.55,4.94)(9.48,5.2)(8.9,5.38)(8.6,5.5)(8,5.71)(7.4,5.9)(6.8,6.1)(6.2,6.32)(5.6,6.55)(5,6.77)(4.4,6.96)(3.8,7.14)(3.2,7.35)(2.6,7.55)(2,7.8)(1.4,8.03)(0.8,8.25)(0.2,8.45)(-0.04,8.51)};
\addplot[cl] coordinates {(16,0.93)(11.85,0.95)(11.3,1.03)(10.87,1.25)(10.64,1.58)(10.54,2.21)(10.35,2.88)(10.15,3.36)(9.86,3.93)(9.6,4.37)(9.43,4.84)(9.2,5.1)(8.9,5.15)(8.6,5.3)(8,5.55)(7.4,5.72)(6.8,5.93)(6.2,6.16)(5.6,6.39)(5,6.6)(4.4,6.8)(3.8,6.98)(3.2,7.17)(2.6,7.36)(2,7.62)(1.4,7.85)(0.8,8.07)(0.2,8.25)(-0.04,8.3)};
\addplot[cl] coordinates {(16,0.8)(11.95,0.82)(11.1,0.96)(10.64,1.3)(10.39,1.73)(10.35,2.21)(10.2,2.83)(9.98,3.36)(9.67,3.89)(9.43,4.37)(9.2,4.7)(8.61,4.84)(8,4.95)(7.4,5.17)(6.8,5.43)(6.2,5.72)(5.6,5.94)(5,6.13)(4.4,6.35)(3.8,6.52)(3.2,6.72)(2.6,6.97)(2,7.22)(1.4,7.45)(0.8,7.65)(0.2,7.83)(-0.04,7.87)};
\addplot[cl] coordinates {(16,0.62)(11.85,0.65)(11,0.81)(10.44,1.1)(10.15,1.49)(10.06,2.11)(9.82,2.83)(9.6,3.26)(9.19,3.84)(8.8,4.17)(8.3,4.4)(7.4,4.68)(6.8,4.87)(6.2,5.06)(5.6,5.3)(5,5.45)(4.4,5.58)(3.8,5.7)(3.2,5.82)(2.6,5.93)(2,6.1)(1.4,6.3)(0.8,6.47)(0.2,6.63)(-0.04,6.67)};
\addplot[cl] coordinates {(16,0.45)(12,0.46)(11.2,0.62)(10.54,0.81)(10.06,1.3)(9.72,1.97)(9.58,2.45)(9.09,3.02)(8.76,3.26)(8.57,3.6)(8.6,3.85)(8.82,4)};
\addplot[cl] coordinates {(7.4,4.55)(6.8,4.7)(6.2,4.82)(5.6,5)(5,5.13)(4.4,5.25)(3.8,5.37)(3.2,5.48)(2.6,5.6)(2,5.75)(1.4,5.87)(0.8,5.98)(0.2,6.07)(-0.04,6.09)};
\addplot[cl] coordinates {(16,0.26)(12,0.26)(11.4,0.34)(10.64,0.57)(10.06,1)(9.48,1.97)(9.09,2.45)(8.61,2.97)(8.32,3.45)(8.27,3.89)(7.74,4.32)(7.4,4.4)(6.8,4.52)(6.2,4.7)(5.6,4.87)(5,5)(4.4,5.12)(3.8,5.22)(3.2,5.35)(2.6,5.47)(2,5.6)(1.4,5.7)(0.8,5.8)(0.2,5.87)(-0.04,5.89)};
\addplot[cl] coordinates {(16,0.05)(11.85,0.09)(11.02,0.24)(10.54,0.57)(10.15,0.9)(9.76,1.3)(9.19,2)(8.8,2.49)(8.42,3.02)(8.22,3.69)(8.03,3.98)(7.65,4.32)(7.4,4.33)(6.8,4.42)(6.2,4.62)(5.6,4.78)(5,4.9)(4.4,5)(3.8,5.1)(3.2,5.22)(2.6,5.33)(2,5.45)(1.4,5.55)(0.8,5.65)(0.2,5.7)(-0.04,5.72)};
\addplot[cl] coordinates {(9.53,0.02)(8.32,0.14)(8.08,0.43)(8.08,3.02)(7.92,3.3)(7.74,3.6)(7.35,3.84)(6.77,4.13)(6.09,4.41)(5.42,4.65)(4.8,4.78)(4.07,4.94)(3,5.08)(2.4,5.18)(1.56,5.32)(0.8,5.4)(-0.04,5.5)};
\addplot[cl] coordinates {(8.41,1.89)(8.49,1.68)(8.39,1.37)(8.32,1.63)} --cycle;
\addplot[fill=a20, draw=black, line width=2pt] coordinates {(8.9,4.22)(8.8,4.32)(8.61,4.37)(8.22,4.51)(7.98,4.58)(7.83,4.7)(7.45,4.73)(7.32,4.61)(7.5,4.56)(7.69,4.46)(7.93,4.41)(8.12,4.36)(8.22,4.22)(8.46,4.1)(8.7,4.06)(8.85,3.93)(8.91,4.08)} --cycle;
\addplot[cl] coordinates {(8.8,4.18)(8.5,4.26)(8.2,4.4)(7.9,4.5)(7.6,4.62)(7.4,4.67)};
\node[lab, minimum width=42pt] at (axis cs:4.82,7.17) {-28};
\node[lab, minimum width=41pt] at (axis cs:0.81,7.63) {-12};
\node[lab, minimum width=26pt] at (axis cs:0.59,6.49) {-8};
\node[lab, minimum width=18pt] at (axis cs:3.59,5.29) {0};
\node[lab, minimum width=26pt] at (axis cs:13.8,0.68) {-8};
\node[lab, minimum width=18pt] at (axis cs:12.6,0.32) {0};
\node[lab, minimum width=18pt] at (axis cs:9.65,1.8) {0};
\node[lab, minimum width=18pt] at (axis cs:8.08,0.83) {8};
\end{axis}
% ---------------- colour bar
\begin{axis}[scale only axis, width=294pt, height=25pt, at={(213.3pt,-963pt)}, anchor=north west,
  xmin=-32, xmax=10, ymin=0, ymax=1, ytick=\empty,
  xtick={-30,-20,-10,0,10}, xticklabels={-30,-20,-10,0,10}, minor xtick={-28,-26,...,8},
  xtick pos=bottom, tick align=outside, major tick length=5pt, minor tick length=3pt,
  axis line style={draw=fr, line width=1pt}, tick style={draw=fr, line width=0.8pt},
  tick label style={font=\fs}, xticklabel style={yshift=-3pt}, label style={font=\fs}, xlabel={Z (cm)},
  xlabel style={at={(axis description cs:0.5,-1.78)}, anchor=center},
  axis on top, clip=true]
\addplot[fill=bg, draw=none] coordinates {(-32,0)(-30,0)(-30,1)(-32,1)} --cycle;
\addplot[fill=a1, draw=none] coordinates {(-30,0)(-28,0)(-28,1)(-30,1)} --cycle;
\addplot[fill=a2, draw=none] coordinates {(-28,0)(-26,0)(-26,1)(-28,1)} --cycle;
\addplot[fill=a3, draw=none] coordinates {(-26,0)(-24,0)(-24,1)(-26,1)} --cycle;
\addplot[fill=a4, draw=none] coordinates {(-24,0)(-22,0)(-22,1)(-24,1)} --cycle;
\addplot[fill=a5, draw=none] coordinates {(-22,0)(-20,0)(-20,1)(-22,1)} --cycle;
\addplot[fill=a6, draw=none] coordinates {(-20,0)(-18,0)(-18,1)(-20,1)} --cycle;
\addplot[fill=a7, draw=none] coordinates {(-18,0)(-16,0)(-16,1)(-18,1)} --cycle;
\addplot[fill=a8, draw=none] coordinates {(-16,0)(-14,0)(-14,1)(-16,1)} --cycle;
\addplot[fill=a9, draw=none] coordinates {(-14,0)(-12,0)(-12,1)(-14,1)} --cycle;
\addplot[fill=a10, draw=none] coordinates {(-12,0)(-10,0)(-10,1)(-12,1)} --cycle;
\addplot[fill=a11, draw=none] coordinates {(-10,0)(-8,0)(-8,1)(-10,1)} --cycle;
\addplot[fill=a12, draw=none] coordinates {(-8,0)(-6,0)(-6,1)(-8,1)} --cycle;
\addplot[fill=a13, draw=none] coordinates {(-6,0)(-4,0)(-4,1)(-6,1)} --cycle;
\addplot[fill=a14, draw=none] coordinates {(-4,0)(-2,0)(-2,1)(-4,1)} --cycle;
\addplot[fill=a15, draw=none] coordinates {(-2,0)(0,0)(0,1)(-2,1)} --cycle;
\addplot[fill=a16, draw=none] coordinates {(0,0)(2,0)(2,1)(0,1)} --cycle;
\addplot[fill=a17, draw=none] coordinates {(2,0)(4,0)(4,1)(2,1)} --cycle;
\addplot[fill=a18, draw=none] coordinates {(4,0)(6,0)(6,1)(4,1)} --cycle;
\addplot[fill=a19, draw=none] coordinates {(6,0)(8,0)(8,1)(6,1)} --cycle;
\addplot[fill=a20, draw=none] coordinates {(8,0)(10,0)(10,1)(8,1)} --cycle;
\addplot[black, line width=0.7pt] coordinates {(-30,0)(-30,1)};
\addplot[black, line width=0.7pt] coordinates {(-20,0)(-20,1)};
\addplot[black, line width=0.7pt] coordinates {(-10,0)(-10,1)};
\addplot[black, line width=0.7pt] coordinates {(0,0)(0,1)};
\end{axis}
\end{tikzpicture}
\end{document}
